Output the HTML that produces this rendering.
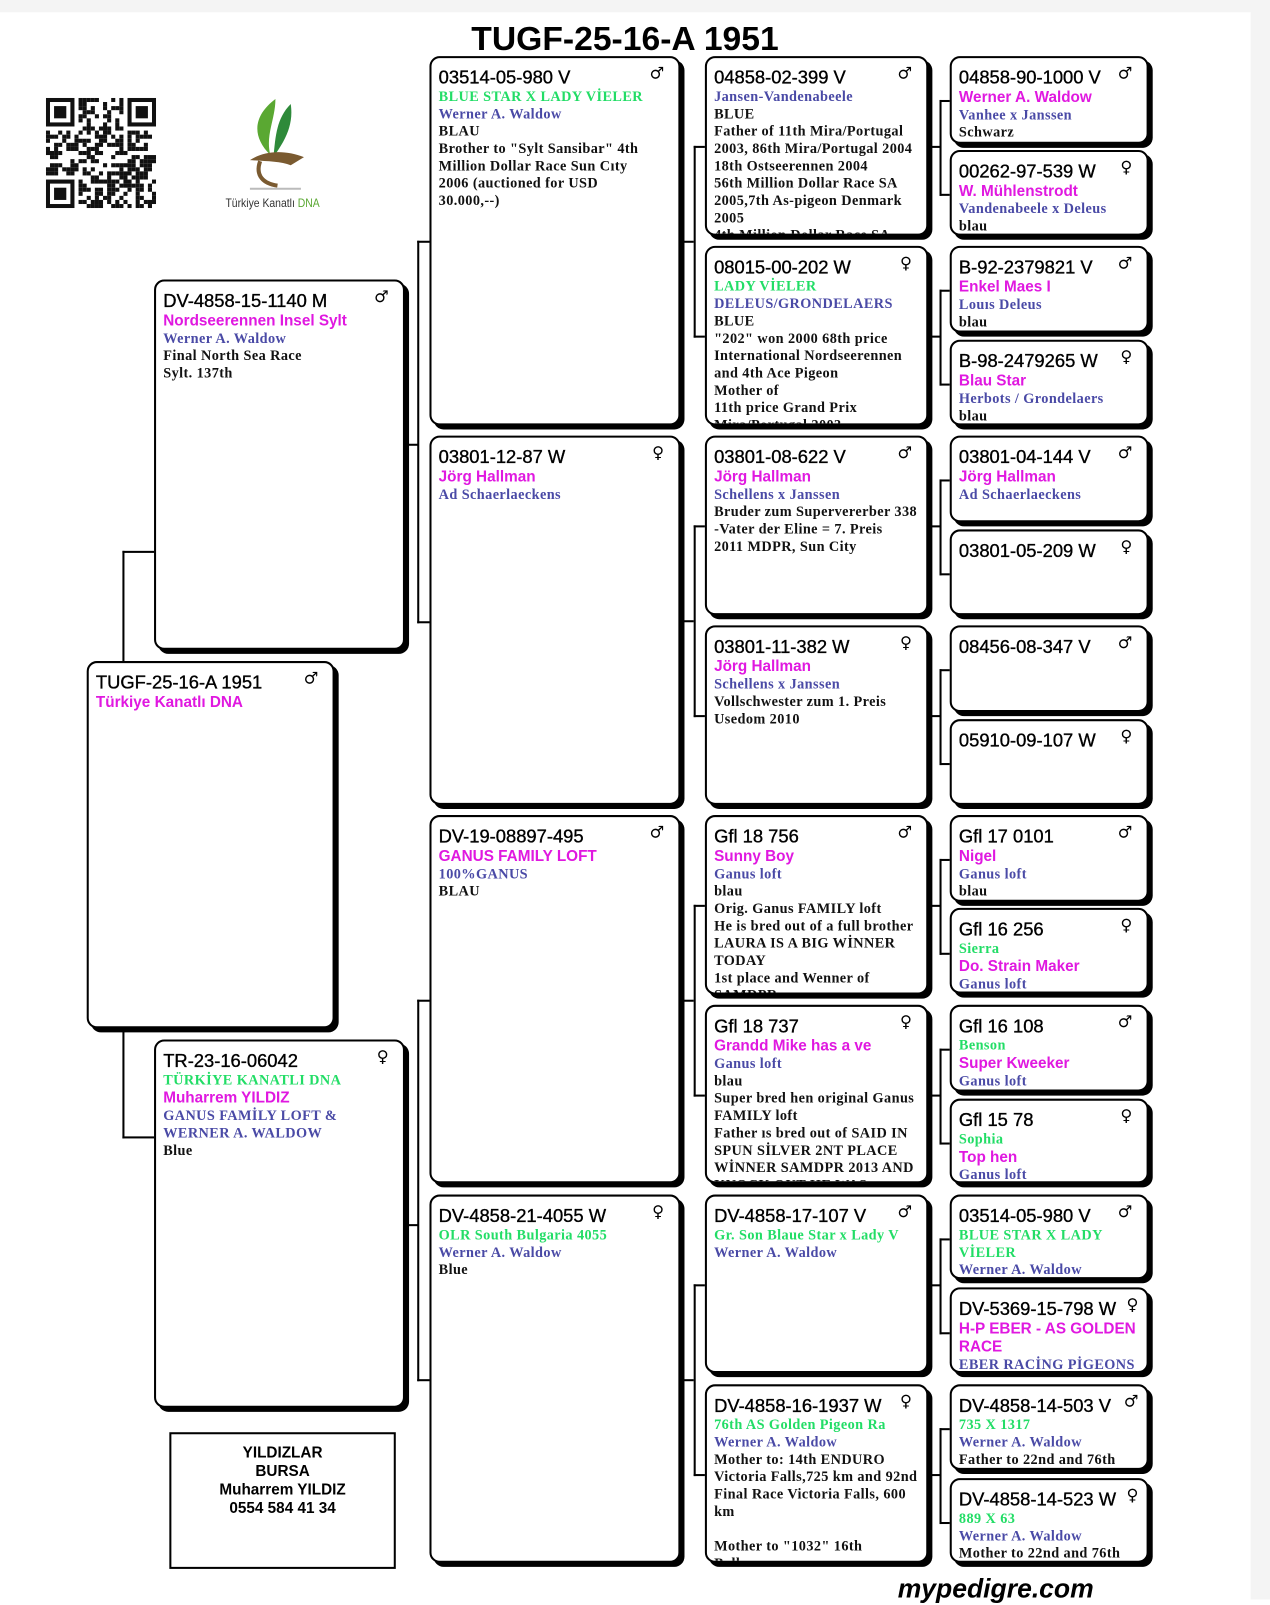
<!DOCTYPE html>
<html><head><meta charset="utf-8">
<style>
html,body{margin:0;padding:0;background:#fff;width:1270px;height:1600px;overflow:hidden}
#w{position:absolute;left:0;top:0;width:1245px;height:1568px;transform:scale(1.0201);transform-origin:0 0;background:#fff}
.b{position:absolute;border:2px solid #000;border-radius:10px;box-shadow:4px 4px 0 #000;background:#fff;overflow:hidden;padding:9px 8px 0 7px;box-sizing:border-box}
.id{font:18px/21px "Liberation Sans",sans-serif;color:#000;white-space:nowrap;-webkit-text-stroke:0.35px #000}
.sx{position:absolute;right:14px;top:5px;font:16px "DejaVu Sans",sans-serif;color:#000}
.g{font:bold 14px/17px "Liberation Serif",serif;color:#22dd66;letter-spacing:.4px}
.u{font:bold 14px/17px "Liberation Serif",serif;color:#4a4aa6;letter-spacing:.4px}
.k{font:bold 14px/17px "Liberation Serif",serif;color:#111;letter-spacing:.4px}
.m{font:bold 15px/18px "Liberation Sans",sans-serif;color:#e018e0}
.l{position:absolute;background:#000}
</style></head><body><div id="w">
<div style="position:absolute;left:0;top:0;width:1245px;height:12px;background:#f4f4f4"></div>
<div style="position:absolute;left:1226px;top:0;width:19px;height:1568px;background:#f4f4f4"></div>
<div style="position:absolute;left:462px;top:19px;font:bold 33px 'Liberation Sans',sans-serif;color:#000">TUGF-25-16-A 1951</div>
<svg id="qr" style="position:absolute;left:45px;top:96px" width="108" height="108" viewBox="0 0 27 27"></svg>
<svg style="position:absolute;left:240px;top:92px" width="60" height="95" viewBox="0 0 60 95">
<path d="M30 5 C10 20 5 40 25 60 C20 40 30 25 30 5Z" fill="#5aa832"/>
<path d="M45 10 C30 25 30 45 28 62 C40 45 48 30 45 10Z" fill="#2e8a3a"/>
<path d="M5 65 C20 55 40 55 58 62 L45 70 C35 66 20 66 5 65Z" fill="#7a5a30"/>
<path d="M15 66 C10 80 18 88 32 90" stroke="#7a5a30" stroke-width="4" fill="none"/>
<line x1="5" y1="93" x2="55" y2="93" stroke="#bbb" stroke-width="2"/>
</svg>
<div style="position:absolute;left:221px;top:192px;font:12px 'Liberation Sans',sans-serif;color:#333;transform:scaleX(.85);transform-origin:0 0;white-space:nowrap">Türkiye Kanatlı <span style="color:#5aa832">DNA</span></div>

<div class="l" style="left:120px;top:540px;width:2px;height:108px"></div>
<div class="l" style="left:120px;top:540px;width:31px;height:2px"></div>
<div class="l" style="left:120px;top:1008px;width:2px;height:108px"></div>
<div class="l" style="left:120px;top:1114px;width:31px;height:2px"></div>

<div class="l" style="left:409px;top:236px;width:2px;height:375px"></div>
<div class="l" style="left:399px;top:435px;width:11px;height:2px"></div>
<div class="l" style="left:409px;top:236px;width:12px;height:2px"></div>
<div class="l" style="left:409px;top:609px;width:12px;height:2px"></div>
<div class="l" style="left:409px;top:980px;width:2px;height:374px"></div>
<div class="l" style="left:399px;top:1200px;width:11px;height:2px"></div>
<div class="l" style="left:409px;top:980px;width:12px;height:2px"></div>
<div class="l" style="left:409px;top:1352px;width:12px;height:2px"></div>

<div id="conn"></div>

<div class="b" style="left:85px;top:648px;width:243px;height:360px"><div class="sx">♂</div><div class="id">TUGF-25-16-A 1951</div><div class="m">Türkiye Kanatlı DNA</div></div>
<div class="b" style="left:151px;top:274px;width:246px;height:363px"><div class="sx">♂</div><div class="id">DV-4858-15-1140 M</div><div class="m">Nordseerennen Insel Sylt</div><div class="u">Werner A. Waldow</div><div class="k">Final North Sea Race<br>Sylt. 137th</div></div>
<div class="b" style="left:151px;top:1019px;width:246px;height:361px"><div class="sx">♀</div><div class="id">TR-23-16-06042</div><div class="g">TÜRKİYE KANATLI DNA</div><div class="m">Muharrem YILDIZ</div><div class="u">GANUS FAMİLY LOFT &amp;<br>WERNER A. WALDOW</div><div class="k">Blue</div></div>
<div class="b" style="left:421px;top:55px;width:246px;height:362px"><div class="sx">♂</div><div class="id">03514-05-980 V</div><div class="g">BLUE STAR X LADY VİELER</div><div class="u">Werner A. Waldow</div><div class="k">BLAU<br>Brother to "Sylt Sansibar" 4th<br>Million Dollar Race Sun Cıty<br>2006 (auctioned for USD<br>30.000,--)</div></div>
<div class="b" style="left:421px;top:427px;width:246px;height:362px"><div class="sx">♀</div><div class="id">03801-12-87 W</div><div class="m">Jörg Hallman</div><div class="u">Ad Schaerlaeckens</div></div>
<div class="b" style="left:421px;top:799px;width:246px;height:361px"><div class="sx">♂</div><div class="id">DV-19-08897-495</div><div class="m">GANUS FAMILY LOFT</div><div class="u">100%GANUS</div><div class="k">BLAU</div></div>
<div class="b" style="left:421px;top:1171px;width:246px;height:361px"><div class="sx">♀</div><div class="id">DV-4858-21-4055 W</div><div class="g">OLR South Bulgaria 4055</div><div class="u">Werner A. Waldow</div><div class="k">Blue</div></div>
<div class="b" style="left:691px;top:55px;width:219px;height:176px"><div class="sx">♂</div><div class="id">04858-02-399 V</div><div class="u">Jansen-Vandenabeele</div><div class="k">BLUE<br>Father of 11th Mira/Portugal<br>2003, 86th Mira/Portugal 2004<br>18th Ostseerennen 2004<br>56th Million Dollar Race SA<br>2005,7th As-pigeon Denmark<br>2005<br>4th Million Dollar Race SA</div></div>
<div class="b" style="left:691px;top:241px;width:219px;height:176px"><div class="sx">♀</div><div class="id">08015-00-202 W</div><div class="g">LADY VİELER</div><div class="u">DELEUS/GRONDELAERS</div><div class="k">BLUE<br>"202" won 2000 68th price<br>International Nordseerennen<br>and 4th Ace Pigeon<br>Mother of<br>11th price Grand Prix<br>Mira/Portugal 2003</div></div>
<div class="b" style="left:691px;top:427px;width:219px;height:176px"><div class="sx">♂</div><div class="id">03801-08-622 V</div><div class="m">Jörg Hallman</div><div class="u">Schellens x Janssen</div><div class="k">Bruder zum Supervererber 338<br>-Vater der Eline = 7. Preis<br>2011 MDPR, Sun City</div></div>
<div class="b" style="left:691px;top:613px;width:219px;height:176px"><div class="sx">♀</div><div class="id">03801-11-382 W</div><div class="m">Jörg Hallman</div><div class="u">Schellens x Janssen</div><div class="k">Vollschwester zum 1. Preis<br>Usedom 2010</div></div>
<div class="b" style="left:691px;top:799px;width:219px;height:176px"><div class="sx">♂</div><div class="id">Gfl 18 756</div><div class="m">Sunny Boy</div><div class="u">Ganus loft</div><div class="k">blau<br>Orig. Ganus FAMILY loft<br>He is bred out of a full brother<br>LAURA IS A BIG WİNNER<br>TODAY<br>1st place and Wenner of<br>SAMDPR</div></div>
<div class="b" style="left:691px;top:985px;width:219px;height:175px"><div class="sx">♀</div><div class="id">Gfl 18 737</div><div class="m">Grandd Mike has a ve</div><div class="u">Ganus loft</div><div class="k">blau<br>Super bred hen original Ganus<br>FAMILY loft<br>Father ıs bred out of SAID IN<br>SPUN SİLVER 2NT PLACE<br>WİNNER SAMDPR 2013 AND<br>KNOCK OUT HE WAS</div></div>
<div class="b" style="left:691px;top:1171px;width:219px;height:175px"><div class="sx">♂</div><div class="id">DV-4858-17-107 V</div><div class="g">Gr. Son Blaue Star x Lady V</div><div class="u">Werner A. Waldow</div></div>
<div class="b" style="left:691px;top:1357px;width:219px;height:175px"><div class="sx">♀</div><div class="id">DV-4858-16-1937 W</div><div class="g">76th AS Golden Pigeon Ra</div><div class="u">Werner A. Waldow</div><div class="k">Mother to: 14th ENDURO<br>Victoria Falls,725 km and 92nd<br>Final Race Victoria Falls, 600<br>km<br><br>Mother to "1032" 16th<br>Ballon</div></div>
<div class="b" style="left:931px;top:55px;width:195px;height:86px"><div class="sx">♂</div><div class="id">04858-90-1000 V</div><div class="m">Werner A. Waldow</div><div class="u">Vanhee x Janssen</div><div class="k">Schwarz</div></div>
<div class="b" style="left:931px;top:147px;width:195px;height:84px"><div class="sx">♀</div><div class="id">00262-97-539 W</div><div class="m">W. Mühlenstrodt</div><div class="u">Vandenabeele x Deleus</div><div class="k">blau</div></div>
<div class="b" style="left:931px;top:241px;width:195px;height:85px"><div class="sx">♂</div><div class="id">B-92-2379821 V</div><div class="m">Enkel Maes I</div><div class="u">Louıs Deleus</div><div class="k">blau</div></div>
<div class="b" style="left:931px;top:333px;width:195px;height:84px"><div class="sx">♀</div><div class="id">B-98-2479265 W</div><div class="m">Blau Star</div><div class="u">Herbots / Grondelaers</div><div class="k">blau</div></div>
<div class="b" style="left:931px;top:427px;width:195px;height:85px"><div class="sx">♂</div><div class="id">03801-04-144 V</div><div class="m">Jörg Hallman</div><div class="u">Ad Schaerlaeckens</div></div>
<div class="b" style="left:931px;top:519px;width:195px;height:84px"><div class="sx">♀</div><div class="id">03801-05-209 W</div></div>
<div class="b" style="left:931px;top:613px;width:195px;height:85px"><div class="sx">♂</div><div class="id">08456-08-347 V</div></div>
<div class="b" style="left:931px;top:705px;width:195px;height:84px"><div class="sx">♀</div><div class="id">05910-09-107 W</div></div>
<div class="b" style="left:931px;top:799px;width:195px;height:85px"><div class="sx">♂</div><div class="id">Gfl 17 0101</div><div class="m">Nigel</div><div class="u">Ganus loft</div><div class="k">blau</div></div>
<div class="b" style="left:931px;top:890px;width:195px;height:84px"><div class="sx">♀</div><div class="id">Gfl 16 256</div><div class="g">Sierra</div><div class="m">Do. Strain Maker</div><div class="u">Ganus loft</div></div>
<div class="b" style="left:931px;top:985px;width:195px;height:85px"><div class="sx">♂</div><div class="id">Gfl 16 108</div><div class="g">Benson</div><div class="m">Super Kweeker</div><div class="u">Ganus loft</div></div>
<div class="b" style="left:931px;top:1077px;width:195px;height:83px"><div class="sx">♀</div><div class="id">Gfl 15 78</div><div class="g">Sophia</div><div class="m">Top hen</div><div class="u">Ganus loft</div></div>
<div class="b" style="left:931px;top:1171px;width:195px;height:83px"><div class="sx">♂</div><div class="id">03514-05-980 V</div><div class="g">BLUE STAR X LADY<br>VİELER</div><div class="u">Werner A. Waldow</div></div>
<div class="b" style="left:931px;top:1262px;width:195px;height:84px"><div class="sx" style="right:8px">♀</div><div class="id">DV-5369-15-798 W</div><div class="m">H-P EBER - AS GOLDEN<br>RACE</div><div class="u">EBER RACİNG PİGEONS</div></div>
<div class="b" style="left:931px;top:1357px;width:195px;height:84px"><div class="sx" style="right:8px">♂</div><div class="id">DV-4858-14-503 V</div><div class="g">735 X 1317</div><div class="u">Werner A. Waldow</div><div class="k">Father to 22nd and 76th</div></div>
<div class="b" style="left:931px;top:1449px;width:195px;height:83px"><div class="sx" style="right:8px">♀</div><div class="id">DV-4858-14-523 W</div><div class="g">889 X 63</div><div class="u">Werner A. Waldow</div><div class="k">Mother to 22nd and 76th</div></div>

<div style="position:absolute;left:166px;top:1404px;width:222px;height:134px;border:2px solid #000;box-sizing:border-box;text-align:center;font:bold 15px/18px 'Liberation Sans',sans-serif;padding-top:10px">YILDIZLAR<br>BURSA<br>Muharrem YILDIZ<br>0554 584 41 34</div>
<div style="position:absolute;left:880px;top:1542px;font:italic bold 26px 'Liberation Sans',sans-serif;color:#000">mypedigre.com</div>
</div>
<script>
var c=document.getElementById('conn'),h='';
function L(x,y,w,hh){h+='<div class="l" style="left:'+x+'px;top:'+y+'px;width:'+w+'px;height:'+hh+'px"></div>';}
[55,427,799,1171].forEach(function(t){var a=t+88,b=t+274,m=t+181;L(680,a,2,b-a+2);L(680,a,11,2);L(680,b,11,2);L(669,m,11,2);});
[55,241,427,613,799,985,1171,1357].forEach(function(t){var a=t+43,b=t+135,m=t+88;L(921,a,2,b-a+2);L(921,a,10,2);L(921,b,10,2);L(912,m,9,2);});
c.innerHTML=h;
var s=document.getElementById('qr'),q='',r=7;
function F(x,y){q+='<rect x="'+x+'" y="'+y+'" width="7" height="7" fill="#111"/><rect x="'+(x+1)+'" y="'+(y+1)+'" width="5" height="5" fill="#fff"/><rect x="'+(x+2)+'" y="'+(y+2)+'" width="3" height="3" fill="#111"/>';}
for(var y=0;y<27;y++)for(var x=0;x<27;x++){if((x<8&&y<8)||(x>18&&y<8)||(x<8&&y>18))continue;r=(r*1103515245+12345)%2147483648;if(r%100<52)q+='<rect x="'+x+'" y="'+y+'" width="1" height="1" fill="#111"/>';}
F(0,0);F(20,0);F(0,20);s.innerHTML=q;
</script>
</body></html>
